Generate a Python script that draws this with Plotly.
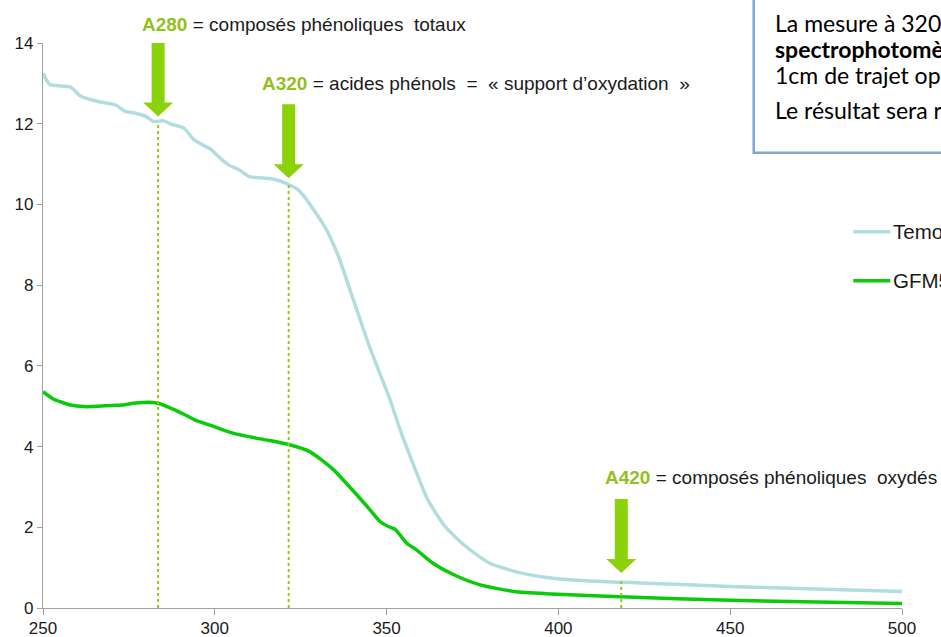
import plotly.graph_objects as go

# ---- data ----
temoin_x = [250, 252, 258, 261, 266, 271, 274, 276, 280, 282, 285, 288, 291, 294, 297, 299,
            301, 304, 307, 310, 313, 316, 319, 321.5, 324, 326, 332, 336, 339, 342, 345, 348,
            351, 354, 358, 362, 367, 373, 380, 389, 399, 411, 418, 424, 450, 475, 500]
temoin_y = [13.25, 12.97, 12.91, 12.68, 12.55, 12.47, 12.30, 12.28, 12.18, 12.06, 12.07, 11.97,
            11.89, 11.60, 11.45, 11.36, 11.19, 10.98, 10.86, 10.69, 10.66, 10.64, 10.58, 10.49,
            10.38, 10.20, 9.45, 8.71, 7.97, 7.22, 6.48, 5.82, 5.16, 4.40, 3.51, 2.68, 2.02,
            1.53, 1.11, 0.87, 0.73, 0.66, 0.64, 0.62, 0.535, 0.47, 0.41]

gfm_x = [250, 253, 258, 262, 266, 270, 273, 277, 281, 284, 288, 291, 294, 300, 305, 312, 316,
         321.5, 327.5, 334.5, 340, 345, 348, 351, 352.5, 355.8, 358.7, 363.5, 369.4, 377, 387,
         398, 418, 450, 500]
gfm_y = [5.36, 5.18, 5.03, 4.99, 5.00, 5.02, 5.03, 5.08, 5.10, 5.06, 4.92, 4.80, 4.67, 4.49,
         4.34, 4.21, 4.15, 4.05, 3.88, 3.43, 2.93, 2.45, 2.15, 2.00, 1.95, 1.61, 1.44, 1.11,
         0.83, 0.58, 0.41, 0.35, 0.28, 0.19, 0.11]

series_names = ["Temoin", "GFM5"]
series_colors = ["#b2dde0", "#0acb0a"]

# markers (wavelength, value where the dotted line meets the curve, arrow tip value)
marker_x = [283.5, 321.5, 418.3]
marker_curve = [12.05, 10.49, 0.70]
marker_tip = [12.18, 10.65, 0.87]
marker_label = ["A280", "A320", "A420"]
marker_text = ["composés phénoliques\u00a0\u00a0totaux",
               "acides phénols\u00a0\u00a0=\u00a0\u00a0« support d\u2019oxydation\u00a0\u00a0»",
               "composés phénoliques\u00a0\u00a0oxydés"]

x_ticks = [250, 300, 350, 400, 450, 500]
y_ticks = [0, 2, 4, 6, 8, 10, 12, 14]

box_lines = ["La mesure à 320 nm se fait au",
             "<b>spectrophotomètre</b>",
             "1cm de trajet optique",
             "Le résultat sera rapporté"]

# ---- layout geometry (window pixels) ----
W, H = 941, 637
PLOT_L, PLOT_R, PLOT_T, PLOT_B = 43.3, 901.7, 43.3, 608.3
ML, MT, MR, MB = PLOT_L, PLOT_T, W - PLOT_R, H - PLOT_B
PW, PH = PLOT_R - PLOT_L, PLOT_B - PLOT_T


def px2paper_x(px):
    return (px - PLOT_L) / PW


def px2paper_y(py):
    return (PLOT_B - py) / PH


label_px = [(140, 24.5), (260, 84), (603, 478)]

ARROW_GREEN = "#8cd20a"
TEXT_GREEN = "#93c01f"
DOT_GREEN = "#9cc21c"
AXIS_GRAY = "#a0a0a0"
FONT = "Liberation Sans, Arial"

fig = go.Figure()
fig.add_trace(go.Scatter(x=temoin_x, y=temoin_y, mode="lines", name=series_names[0],
                         line=dict(color=series_colors[0], width=3.5, shape="spline", smoothing=0.6)))
fig.add_trace(go.Scatter(x=gfm_x, y=gfm_y, mode="lines", name=series_names[1],
                         line=dict(color=series_colors[1], width=3.5, shape="spline", smoothing=0.6)))

shapes = []
annotations = []
for mx, mc, mt, lab, txt, (lx, ly) in zip(marker_x, marker_curve, marker_tip, marker_label,
                                         marker_text, label_px):
    shapes.append(dict(type="line", xref="x", yref="y", x0=mx, x1=mx, y0=0, y1=mc,
                       line=dict(color=DOT_GREEN, width=2, dash="dot"), layer="above"))
    shapes.append(dict(type="path", xref="x", yref="y", xsizemode="pixel", ysizemode="pixel",
                       xanchor=mx, yanchor=mt,
                       path="M0,0 L-15,14 L-6.5,14 L-6.5,74 L6.5,74 L6.5,14 L15,14 Z",
                       fillcolor=ARROW_GREEN, line=dict(width=0), layer="above"))
    annotations.append(dict(xref="paper", yref="paper", x=px2paper_x(lx), y=px2paper_y(ly),
                            xanchor="left", yanchor="middle", showarrow=False,
                            text=f"<b><span style='color:{TEXT_GREEN}'>{lab}</span></b> = {txt}",
                            font=dict(family=FONT, size=19, color="#1a1a1a")))

# manual legend (right side)
legend_rows = [232, 281]
for name, col, ry in zip(series_names, series_colors, legend_rows):
    shapes.append(dict(type="line", xref="paper", yref="paper",
                       x0=px2paper_x(853), x1=px2paper_x(890), y0=px2paper_y(ry), y1=px2paper_y(ry),
                       line=dict(color=col, width=3.5)))
    annotations.append(dict(xref="paper", yref="paper", x=px2paper_x(891), y=px2paper_y(ry),
                            xanchor="left", yanchor="middle", showarrow=False, text=name,
                            font=dict(family=FONT, size=20.5, color="#1a1a1a")))

# text box (top right)
shapes.append(dict(type="rect", xref="paper", yref="paper",
                   x0=px2paper_x(753.5), x1=px2paper_x(990), y0=px2paper_y(153), y1=px2paper_y(-30),
                   line=dict(color="#7ea6d6", width=2.5), fillcolor="rgba(0,0,0,0)"))
box_y = [23, 49, 75, 110]
for t, by in zip(box_lines, box_y):
    annotations.append(dict(xref="paper", yref="paper", x=px2paper_x(773), y=px2paper_y(by),
                            xanchor="left", yanchor="middle", showarrow=False, text=t,
                            font=dict(family="Lato, Open Sans", size=23, color="#000000")))

fig.update_layout(
    width=W, height=H,
    margin=dict(l=ML, r=MR, t=MT, b=MB, pad=0, autoexpand=False),
    paper_bgcolor="white", plot_bgcolor="white",
    font=dict(family=FONT, color="#1a1a1a"),
    showlegend=False,
    xaxis=dict(range=[250, 500], tickvals=x_ticks, ticktext=[str(v) for v in x_ticks],
               showgrid=False, zeroline=False, showline=True, linecolor=AXIS_GRAY, linewidth=1.3,
               ticks="outside", ticklen=6, tickcolor=AXIS_GRAY, tickwidth=1.3,
               ticklabelstandoff=-2,
               tickfont=dict(size=17, color="#1a1a1a")),
    yaxis=dict(range=[0, 14], tickvals=y_ticks, ticktext=[str(v) for v in y_ticks],
               showgrid=False, zeroline=False, showline=True, linecolor=AXIS_GRAY, linewidth=1.3,
               ticks="outside", ticklen=5, tickcolor=AXIS_GRAY, tickwidth=1.3,
               tickfont=dict(size=17, color="#1a1a1a")),
    shapes=shapes,
    annotations=annotations,
)

fig.write_html("out.html", config={"displayModeBar": False},
               post_script="document.body.style.margin='0';document.body.style.overflow='hidden';")
